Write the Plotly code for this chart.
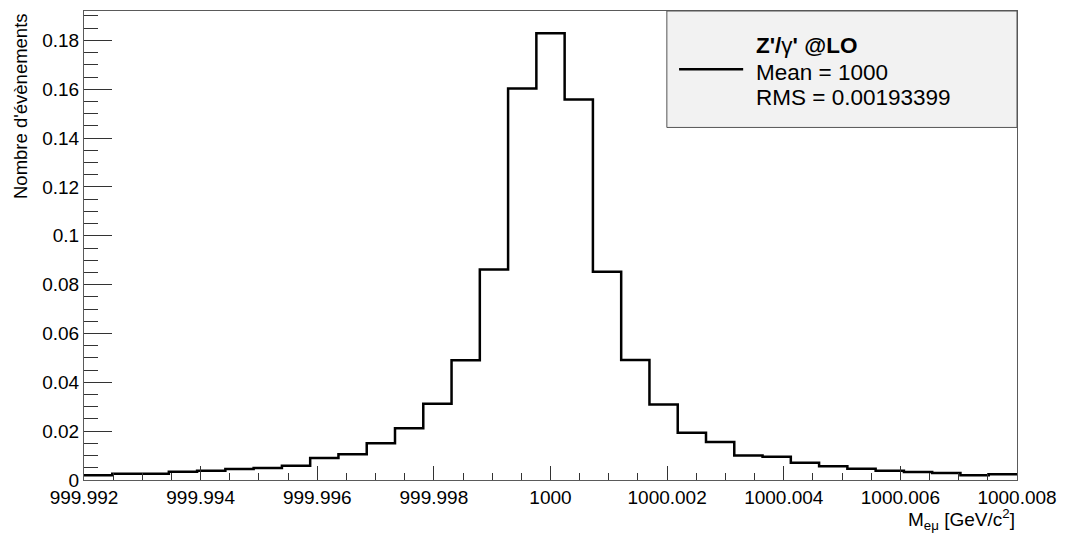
import numpy as np
import plotly.graph_objects as go

# Histogram definition: 33 bins over [999.992, 1000.008]
n_bins = 33
x_low, x_high = 999.992, 1000.008

# Normalised bin contents (fraction of events per bin)
counts = [
    0.0019, 0.0026, 0.0026, 0.0034, 0.0038, 0.0045, 0.0049, 0.0058,
    0.0090, 0.0105, 0.0150, 0.0212, 0.0312, 0.0490, 0.0862, 0.1603,
    0.1829, 0.1558, 0.0853, 0.0491, 0.0309, 0.0193, 0.0156, 0.0100,
    0.0095, 0.0071, 0.0056, 0.0046, 0.0038, 0.0033, 0.0029, 0.0019,
    0.0024,
]

x_tickvals = [999.992, 999.994, 999.996, 999.998, 1000.0,
              1000.002, 1000.004, 1000.006, 1000.008]
x_ticktext = ["999.992", "999.994", "999.996", "999.998", "1000",
              "1000.002", "1000.004", "1000.006", "1000.008"]
y_tickvals = [0, 0.02, 0.04, 0.06, 0.08, 0.10, 0.12, 0.14, 0.16, 0.18]
y_ticktext = ["0", "0.02", "0.04", "0.06", "0.08", "0.1",
              "0.12", "0.14", "0.16", "0.18"]

legend_title = "<b>Z'/</b>γ<b>' @LO</b>"
legend_lines = ["Mean = 1000", "RMS = 0.00193399"]

edges = np.linspace(x_low, x_high, n_bins + 1)
step_y = counts + [counts[-1]]

FONT = "Liberation Sans, Arial, Helvetica, sans-serif"

fig = go.Figure()
fig.add_trace(go.Scatter(
    x=edges, y=step_y, mode="lines", line_shape="hv",
    line=dict(color="black", width=2.5), showlegend=False,
    hoverinfo="skip",
))

ymax = max(counts) * 1.05

fig.update_layout(
    width=1067, height=536,
    margin=dict(l=84, r=46, t=10, b=56),
    paper_bgcolor="white", plot_bgcolor="white",
    font=dict(family=FONT, size=19, color="black"),
    showlegend=False,
    xaxis=dict(
        range=[x_low, x_high], showgrid=False, zeroline=False,
        showline=True, mirror=True, linecolor="#5a5a5a", linewidth=1,
        tickmode="array", tickvals=x_tickvals, ticktext=x_ticktext,
        ticks="inside", ticklen=14, tickwidth=1, tickcolor="#333",
        minor=dict(ticks="inside", ticklen=7, tickwidth=1, tickcolor="#333",
                   tick0=x_low, dtick=0.0005, showgrid=False),
        tickfont=dict(size=19),
    ),
    yaxis=dict(
        range=[0, ymax], showgrid=False, zeroline=False,
        showline=True, mirror=True, linecolor="#5a5a5a", linewidth=1,
        tickmode="array", tickvals=y_tickvals, ticktext=y_ticktext,
        ticks="inside", ticklen=28, tickwidth=1, tickcolor="#333",
        minor=dict(ticks="inside", ticklen=14, tickwidth=1, tickcolor="#333",
                   tick0=0, dtick=0.005, showgrid=False),
        tickfont=dict(size=19),
    ),
)

# Axis titles, ROOT style (right/top aligned)
fig.add_annotation(
    xref="paper", yref="paper", x=1.0, y=-0.085,
    xanchor="right", yanchor="middle", showarrow=False,
    text="M<sub>eμ</sub> [GeV/c<sup>2</sup>]", font=dict(size=19),
)
fig.add_annotation(
    xref="paper", yref="paper", x=-0.0686, y=1.0,
    xanchor="center", yanchor="top", showarrow=False, textangle=-90,
    text="Nombre d'évènements", font=dict(size=18.5),
)

# Stats/legend box
box_x0, box_y0 = 0.6247, 0.7517
fig.add_shape(type="rect", xref="paper", yref="paper",
              x0=box_x0, x1=1.0, y0=box_y0, y1=1.0,
              fillcolor="#f2f2f2", line=dict(color="#555", width=1),
              layer="above")
fig.add_shape(type="line", xref="paper", yref="paper",
              x0=0.6378, x1=0.7065, y0=0.876, y1=0.876,
              line=dict(color="black", width=2.5), layer="above")
fig.add_annotation(xref="paper", yref="paper", x=0.7179, y=0.9255,
                   xanchor="left", yanchor="middle", showarrow=False,
                   text=legend_title, font=dict(size=22.5))
for yv, txt in zip([0.8687, 0.8155], legend_lines):
    fig.add_annotation(xref="paper", yref="paper", x=0.7179, y=yv,
                       xanchor="left", yanchor="middle", showarrow=False,
                       text=txt, font=dict(size=22.5))

fig.write_html("out.html")
